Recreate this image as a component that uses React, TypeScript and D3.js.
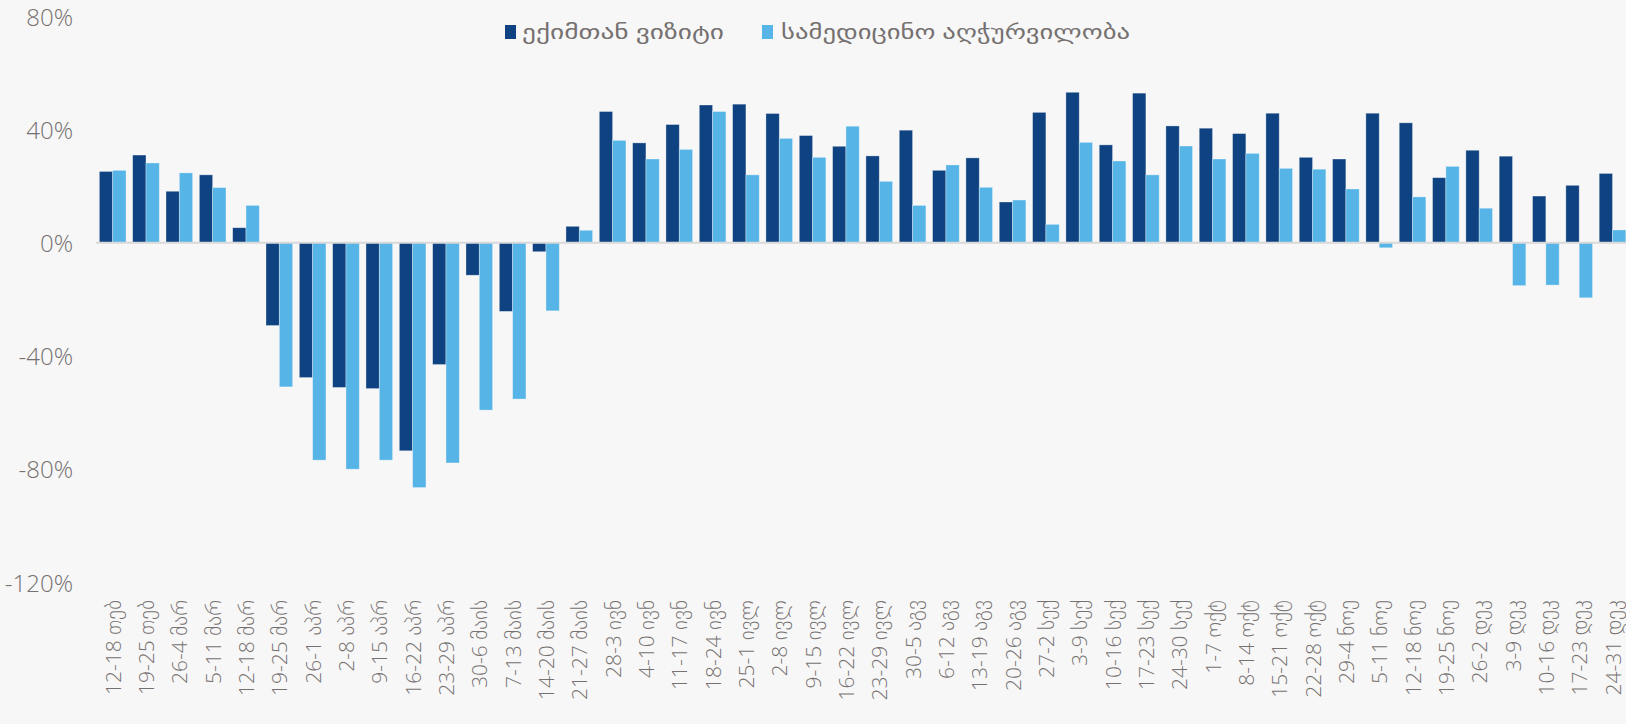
import React from "react";
import * as d3 from "d3";

const categories = [
  "12-18 თებ", "19-25 თებ", "26-4 მარ", "5-11 მარ", "12-18 მარ", "19-25 მარ",
  "26-1 აპრ", "2-8 აპრ", "9-15 აპრ", "16-22 აპრ", "23-29 აპრ", "30-6 მაის",
  "7-13 მაის", "14-20 მაის", "21-27 მაის", "28-3 ივნ", "4-10 ივნ", "11-17 ივნ",
  "18-24 ივნ", "25-1 ივლ", "2-8 ივლ", "9-15 ივლ", "16-22 ივლ", "23-29 ივლ",
  "30-5 აგვ", "6-12 აგვ", "13-19 აგვ", "20-26 აგვ", "27-2 სექ", "3-9 სექ",
  "10-16 სექ", "17-23 სექ", "24-30 სექ", "1-7 ოქტ", "8-14 ოქტ", "15-21 ოქტ",
  "22-28 ოქტ", "29-4 ნოე", "5-11 ნოე", "12-18 ნოე", "19-25 ნოე", "26-2 დეკ",
  "3-9 დეკ", "10-16 დეკ", "17-23 დეკ", "24-31 დეკ",
];

const doctorVisits = [
  25.2, 31.0, 18.2, 24.0, 5.3, -29.3, -47.7, -51.2, -51.6, -73.6, -43.1, -11.5,
  -24.3, -3.2, 5.8, 46.4, 35.3, 41.8, 48.7, 49.0, 45.7, 37.9, 34.1, 30.7,
  39.8, 25.6, 30.0, 14.4, 46.1, 53.2, 34.6, 52.9, 41.3, 40.5, 38.6, 45.8,
  30.2, 29.6, 45.8, 42.4, 23.0, 32.7, 30.6, 16.5, 20.3, 24.5,
];

const medicalEquipment = [
  25.6, 28.2, 24.7, 19.5, 13.2, -51.0, -76.9, -80.1, -76.9, -86.6, -77.9, -59.2,
  -55.3, -24.1, 4.4, 36.2, 29.6, 33.0, 46.4, 24.0, 36.9, 30.2, 41.2, 21.7,
  13.2, 27.5, 19.6, 15.1, 6.5, 35.5, 28.9, 24.0, 34.2, 29.6, 31.6, 26.3,
  26.0, 19.0, -1.8, 16.2, 27.0, 12.2, -15.2, -15.0, -19.5, 4.5,
];

const seriesNames = ["ექიმთან ვიზიტი", "სამედიცინო აღჭურვილობა"];
const seriesColors = ["#0F4280", "#56B4E6"];
const yTicks = [80, 40, 0, -40, -80, -120];

const W = 1626;
const H = 724;
const TEXT = "#767171";
const FONT = "'Open Sans', 'DejaVu Sans', sans-serif";

export default function App() {
  const plotLeft = 96;
  const step = 33.33;
  const x0 = d3
    .scaleBand<string>()
    .domain(categories)
    .range([plotLeft, plotLeft + step * categories.length])
    .padding(0);
  const bw = x0.bandwidth();
  const x1 = d3
    .scaleBand<number>()
    .domain([0, 1])
    .range([bw * 0.1, bw * 0.9])
    .padding(0);
  const y = d3.scaleLinear().domain([-120, 80]).range([582, 16.5]);
  const series = [doctorVisits, medicalEquipment];

  return (
    <svg
      width={W}
      height={H}
      style={{ position: "absolute", left: 0, top: 0, display: "block" }}
    >
      <rect x={0} y={0} width={W} height={H} fill="#F7F7F7" />
      {yTicks.map((t) => (
        <text
          key={t}
          x={73}
          y={y(t)}
          textAnchor="end"
          dominantBaseline="central"
          fontFamily={FONT}
          fontWeight={300}
          fontSize={24}
          fill={TEXT}
        >
          {t}%
        </text>
      ))}
      {series.map((vals, si) =>
        vals.map((v, i) => {
          const c = categories[i];
          const bx = (x0(c) ?? 0) + (x1(si) ?? 0);
          const y0 = y(0);
          const yv = y(v);
          return (
            <rect
              key={`${si}-${i}`}
              x={bx}
              y={Math.min(y0, yv)}
              width={x1.bandwidth()}
              height={Math.abs(yv - y0)}
              fill={seriesColors[si]}
              stroke="rgba(255,255,255,0.45)"
              strokeWidth={0.75}
            />
          );
        })
      )}
      <line
        x1={plotLeft}
        x2={W}
        y1={y(0)}
        y2={y(0)}
        stroke="#D9D9D9"
        strokeWidth={2}
      />
      {categories.map((c) => {
        const cx = (x0(c) ?? 0) + bw / 2;
        return (
          <text
            key={c}
            transform={`translate(${cx},600) rotate(-90)`}
            textAnchor="end"
            dominantBaseline="central"
            fontFamily={FONT}
            fontWeight={300}
            fontSize={21}
            fill={TEXT}
          >
            {c}
          </text>
        );
      })}
      <g>
        <rect x={505} y={25} width={11} height={14} fill={seriesColors[0]} />
        <text
          x={522}
          y={32}
          dominantBaseline="central"
          fontFamily={FONT}
          fontSize={19}
          fill={TEXT}
          textLength={202}
          lengthAdjust="spacingAndGlyphs"
        >
          {seriesNames[0]}
        </text>
        <rect x={762} y={25} width={11} height={14} fill={seriesColors[1]} />
        <text
          x={781}
          y={32}
          dominantBaseline="central"
          fontFamily={FONT}
          fontSize={19}
          fill={TEXT}
          textLength={349}
          lengthAdjust="spacingAndGlyphs"
        >
          {seriesNames[1]}
        </text>
      </g>
    </svg>
  );
}
